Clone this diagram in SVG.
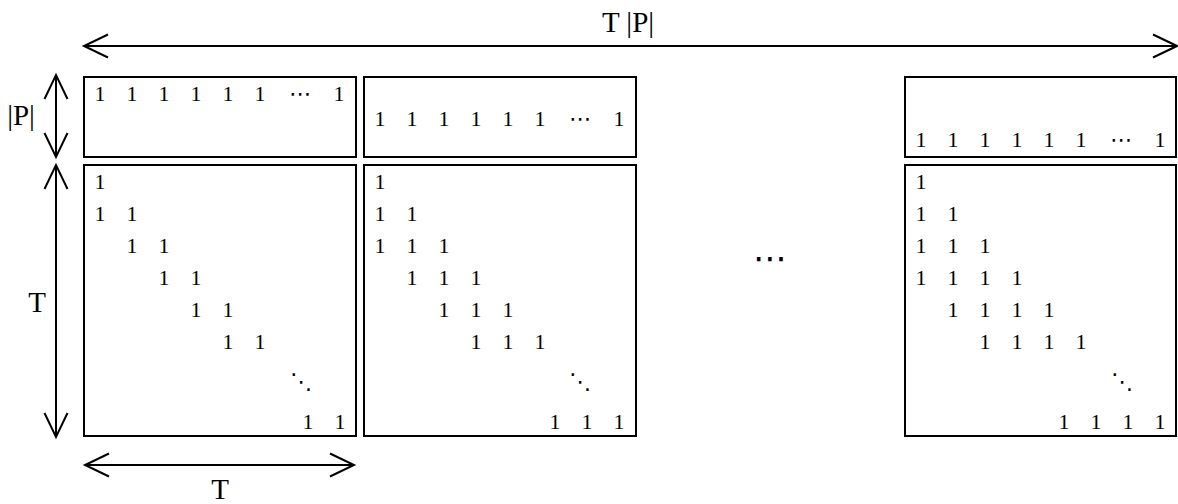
<svg xmlns="http://www.w3.org/2000/svg" width="1178" height="504" viewBox="0 0 1178 504">
  <style>
    .box { fill: none; stroke: #000; stroke-width: 2; }
    .conn { fill: none; stroke: #000; stroke-width: 2; }
    .num { font-family: "Liberation Serif", "Times New Roman", serif; font-size: 22px; text-anchor: middle; fill: #000; }
    .lbl { font-family: "Liberation Serif", "Times New Roman", serif; font-size: 29px; text-anchor: middle; fill: #000; }
    .dots { font-family: "DejaVu Sans", sans-serif; font-size: 22px; text-anchor: middle; fill: #000; }
    .bigdots { font-family: "DejaVu Sans", sans-serif; font-size: 34px; text-anchor: middle; fill: #000; }
  </style>
  <defs>
    <marker id="head" markerUnits="userSpaceOnUse" viewBox="-26 -13 28 26" refX="0" refY="0" markerWidth="28" markerHeight="26" orient="auto-start-reverse" overflow="visible">
      <path d="M -24 -11.5 L 0 0 L -24 11.5" fill="none" stroke="#000" stroke-width="2"/>
    </marker>
  </defs>

  <!-- dimension arrows -->
  <g id="connectors">
    <line class="conn" x1="84" y1="46" x2="1177" y2="46" marker-start="url(#head)" marker-end="url(#head)"/>
    <line class="conn" x1="56" y1="75" x2="56" y2="157" marker-start="url(#head)" marker-end="url(#head)"/>
    <line class="conn" x1="56" y1="165" x2="56" y2="437" marker-start="url(#head)" marker-end="url(#head)"/>
    <line class="conn" x1="85" y1="465" x2="354" y2="465" marker-start="url(#head)" marker-end="url(#head)"/>
  </g>

  <!-- dimension labels -->
  <g id="labels">
    <text class="lbl" x="628" y="32">T |P|</text>
    <text class="lbl" x="21" y="125">|P|</text>
    <text class="lbl" x="37" y="312">T</text>
    <text class="lbl" x="220" y="499">T</text>
  </g>

  <!-- top row: one-hot blocks of size |P| x T -->
  <g id="top1">
    <rect class="box" x="84" y="77" width="272" height="80"/>
    <text class="num" y="101"><tspan x="100">1</tspan><tspan x="132">1</tspan><tspan x="164">1</tspan><tspan x="196">1</tspan><tspan x="228">1</tspan><tspan x="260">1</tspan><tspan x="339">1</tspan></text>
    <text class="dots" x="300" y="101">⋯</text>
  </g>
  <g id="top2">
    <rect class="box" x="364" y="77" width="272" height="80"/>
    <text class="num" y="126"><tspan x="380">1</tspan><tspan x="412">1</tspan><tspan x="444">1</tspan><tspan x="476">1</tspan><tspan x="508">1</tspan><tspan x="540">1</tspan><tspan x="619">1</tspan></text>
    <text class="dots" x="580" y="126">⋯</text>
  </g>
  <g id="top3">
    <rect class="box" x="905" y="77" width="271" height="80"/>
    <text class="num" y="147"><tspan x="921">1</tspan><tspan x="953">1</tspan><tspan x="985">1</tspan><tspan x="1017">1</tspan><tspan x="1049">1</tspan><tspan x="1081">1</tspan><tspan x="1160">1</tspan></text>
    <text class="dots" x="1121" y="147">⋯</text>
  </g>

  <!-- bottom row: banded T x T blocks -->
  <g id="band1">
    <rect class="box" x="84" y="165" width="272" height="271"/>
    <text class="num" x="100" y="189">1</text>
    <text class="num" y="221"><tspan x="100">1</tspan><tspan x="132">1</tspan></text>
    <text class="num" y="253"><tspan x="132">1</tspan><tspan x="164">1</tspan></text>
    <text class="num" y="285"><tspan x="164">1</tspan><tspan x="196">1</tspan></text>
    <text class="num" y="317"><tspan x="196">1</tspan><tspan x="228">1</tspan></text>
    <text class="num" y="349"><tspan x="228">1</tspan><tspan x="260">1</tspan></text>
    <text class="dots" x="301" y="389">⋱</text>
    <text class="num" y="429"><tspan x="308">1</tspan><tspan x="340">1</tspan></text>
  </g>
  <g id="band2">
    <rect class="box" x="364" y="165" width="272" height="271"/>
    <text class="num" x="380" y="189">1</text>
    <text class="num" y="221"><tspan x="380">1</tspan><tspan x="412">1</tspan></text>
    <text class="num" y="253"><tspan x="380">1</tspan><tspan x="412">1</tspan><tspan x="444">1</tspan></text>
    <text class="num" y="285"><tspan x="412">1</tspan><tspan x="444">1</tspan><tspan x="476">1</tspan></text>
    <text class="num" y="317"><tspan x="444">1</tspan><tspan x="476">1</tspan><tspan x="508">1</tspan></text>
    <text class="num" y="349"><tspan x="476">1</tspan><tspan x="508">1</tspan><tspan x="540">1</tspan></text>
    <text class="dots" x="580" y="389">⋱</text>
    <text class="num" y="429"><tspan x="555">1</tspan><tspan x="587">1</tspan><tspan x="619">1</tspan></text>
  </g>
  <g id="gap">
    <text class="bigdots" x="770" y="270">⋯</text>
  </g>
  <g id="band3">
    <rect class="box" x="905" y="165" width="271" height="271"/>
    <text class="num" x="921" y="189">1</text>
    <text class="num" y="221"><tspan x="921">1</tspan><tspan x="953">1</tspan></text>
    <text class="num" y="253"><tspan x="921">1</tspan><tspan x="953">1</tspan><tspan x="985">1</tspan></text>
    <text class="num" y="285"><tspan x="921">1</tspan><tspan x="953">1</tspan><tspan x="985">1</tspan><tspan x="1017">1</tspan></text>
    <text class="num" y="317"><tspan x="953">1</tspan><tspan x="985">1</tspan><tspan x="1017">1</tspan><tspan x="1049">1</tspan></text>
    <text class="num" y="349"><tspan x="985">1</tspan><tspan x="1017">1</tspan><tspan x="1049">1</tspan><tspan x="1081">1</tspan></text>
    <text class="dots" x="1122" y="389">⋱</text>
    <text class="num" y="429"><tspan x="1064">1</tspan><tspan x="1096">1</tspan><tspan x="1128">1</tspan><tspan x="1160">1</tspan></text>
  </g>
</svg>
